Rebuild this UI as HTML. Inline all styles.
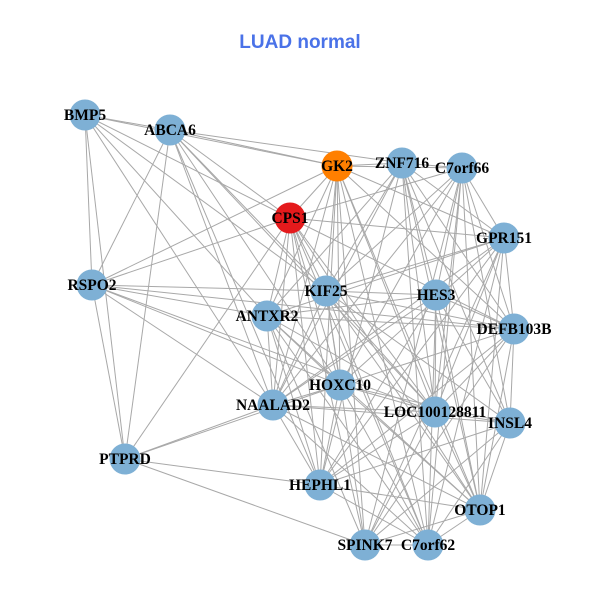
<!DOCTYPE html><html><head><meta charset="utf-8"><style>body{margin:0;background:#fff}svg{display:block}text{font-family:"Liberation Serif",serif;font-weight:bold;font-size:15.5px;text-anchor:middle;fill:#000}</style></head><body>
<svg id="s" width="600" height="600" xmlns="http://www.w3.org/2000/svg">
<text x="300" y="48" style="font-family:'Liberation Sans',sans-serif;font-size:19px;fill:#4a72e8">LUAD normal</text>
<g id="e" stroke="#a8a8a8" stroke-width="1"></g><g id="n"></g></svg>
<script>
var N={BMP5:[85,115],ABCA6:[170,130],GK2:[337,166],ZNF716:[402,163],C7orf66:[462,168],CPS1:[290,218],GPR151:[504,238],RSPO2:[92,285],KIF25:[326,291],HES3:[436,295],ANTXR2:[267,316],DEFB103B:[514,329],HOXC10:[340,385],NAALAD2:[273,405],LOC100128811:[435,412],INSL4:[510,423],PTPRD:[125,459],HEPHL1:[320,485],OTOP1:[480,510],SPINK7:[365,545],C7orf62:[428,545]};
var E=[["BMP5","ABCA6"],["BMP5","GK2"],["BMP5","RSPO2"],["BMP5","PTPRD"],["BMP5","CPS1"],["BMP5","ANTXR2"],["BMP5","NAALAD2"],["BMP5","KIF25"],
["ABCA6","GK2"],["ABCA6","ZNF716"],["ABCA6","RSPO2"],["ABCA6","PTPRD"],["ABCA6","CPS1"],["ABCA6","KIF25"],["ABCA6","HOXC10"],["ABCA6","LOC100128811"],["ABCA6","HEPHL1"],["ABCA6","NAALAD2"],
["RSPO2","GK2"],["RSPO2","CPS1"],["RSPO2","KIF25"],["RSPO2","ANTXR2"],["RSPO2","NAALAD2"],["RSPO2","HOXC10"],["RSPO2","PTPRD"],["RSPO2","DEFB103B"],["RSPO2","LOC100128811"],
["PTPRD","NAALAD2"],["PTPRD","HOXC10"],["PTPRD","HEPHL1"],["PTPRD","SPINK7"],["PTPRD","CPS1"]];
var C=["GK2","ZNF716","C7orf66","CPS1","GPR151","KIF25","HES3","ANTXR2","DEFB103B","HOXC10","NAALAD2","LOC100128811","INSL4","HEPHL1","OTOP1","SPINK7","C7orf62"];
var k=0;for(var i=0;i<C.length;i++)for(var j=i+1;j<C.length;j++){k++;if(k%6!=0)E.push([C[i],C[j]]);}
var ns="http://www.w3.org/2000/svg",g=document.getElementById("e"),h=document.getElementById("n");
E.forEach(function(p){var a=N[p[0]],b=N[p[1]],l=document.createElementNS(ns,"line");l.setAttribute("x1",a[0]);l.setAttribute("y1",a[1]);l.setAttribute("x2",b[0]);l.setAttribute("y2",b[1]);g.appendChild(l);});
for(var n in N){var c=document.createElementNS(ns,"circle"),p=N[n];c.setAttribute("cx",p[0]);c.setAttribute("cy",p[1]);c.setAttribute("r",15.5);c.setAttribute("fill",n=="GK2"?"#ff7f00":n=="CPS1"?"#e41a1c":"#7eb0d5");h.appendChild(c);}
for(var n in N){var t=document.createElementNS(ns,"text"),p=N[n];t.setAttribute("x",p[0]);t.setAttribute("y",p[1]+5);t.textContent=n;h.appendChild(t);}
</script></body></html>
